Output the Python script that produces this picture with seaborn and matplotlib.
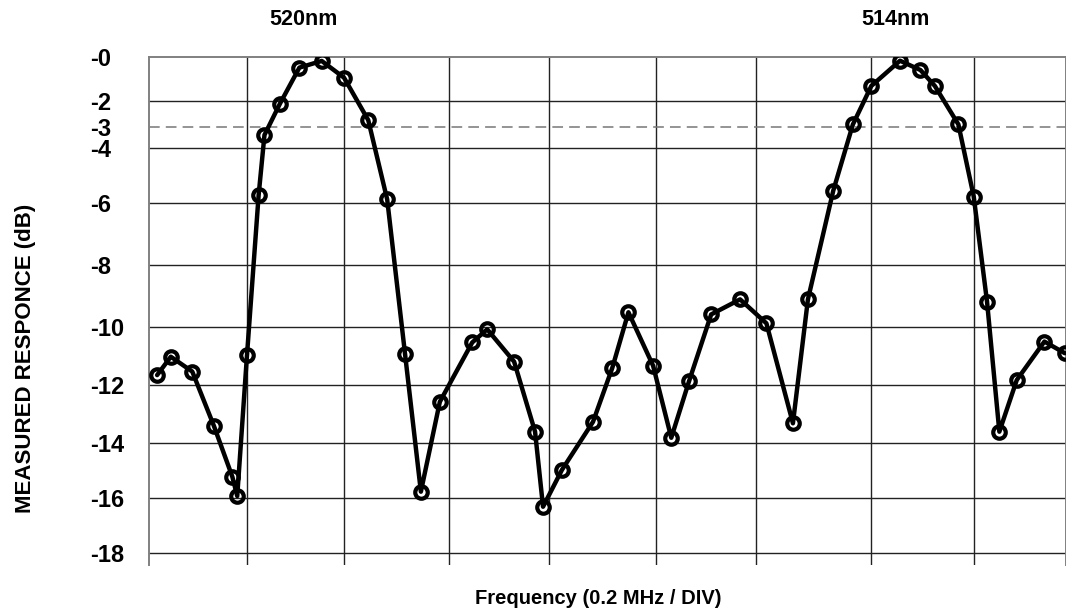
import numpy as np
import pandas as pd
import matplotlib
matplotlib.use("Agg")
import matplotlib.pyplot as plt
import seaborn as sns

# ---------------- data ----------------
freq_div = [0.08, 0.22, 0.44, 0.66, 0.85, 0.90, 1.00, 1.12, 1.18, 1.34,
            1.54, 1.77, 2.00, 2.23, 2.41, 2.58, 2.73, 2.91, 3.23, 3.38,
            3.65, 3.86, 3.94, 4.12, 4.41, 4.59, 4.74, 4.97, 5.15, 5.33,
            5.55, 5.84, 6.09, 6.32, 6.45, 6.67, 6.84, 7.00, 7.28, 7.48,
            7.62, 7.85, 8.00, 8.13, 8.25, 8.42, 8.69, 8.89]
response_db = [-11.66, -11.03, -11.54, -13.40, -15.23, -15.93, -10.97, -5.70, -3.39, -2.09,
               -0.49, -0.19, -0.94, -2.74, -5.86, -10.95, -15.77, -12.58, -10.54, -10.09,
               -11.20, -13.61, -16.32, -14.98, -13.27, -11.41, -9.53, -11.34, -13.82, -11.85,
               -9.60, -9.11, -9.89, -13.32, -9.11, -5.54, -2.91, -1.31, -0.18, -0.60,
               -1.31, -2.91, -5.76, -9.19, -13.61, -11.83, -10.51, -10.91]
y_ticks = [0, -2, -3, -4, -6, -8, -10, -12, -14, -16, -18]
y_tick_labels = ["-0", "-2", "-3", "-4", "-6", "-8", "-10", "-12", "-14", "-16", "-18"]
half_power_db = -3
x_divisions = list(range(0, 9))
peak_labels = ["520nm", "514nm"]
peak_label_x = [1.58, 7.24]
x_label = "Frequency (0.2 MHz / DIV)"
y_label = "MEASURED RESPONCE (dB)"

df = pd.DataFrame({"freq": freq_div, "db": response_db})

# ---------------- style ----------------
sns.set_theme(style="white")
plt.rcParams['font.family'] = ['Liberation Sans', 'DejaVu Sans']
plt.rcParams['font.weight'] = 'bold'

# uneven spacing of the original graph paper (layout only)
Y_KNOTS = np.array([-20, -18, -16, -14, -12, -10, -8, -6, -4, -3, -2, 0, 2], dtype=float)
Y_POS = -np.array([607.4, 552.7, 498, 443, 385, 326.7, 265.3, 203.3, 148, 126.7, 101.3, 56.7, 12.1])
X_KNOTS = np.arange(-1, 11, dtype=float)
X_POS = np.array([46.9, 149.3, 247, 344, 449.3, 549, 656.3, 756, 871.3, 973.7, 1076.1, 1178.5])

def fy(v):
    return np.interp(v, Y_KNOTS, Y_POS)

def iy(u):
    return np.interp(u, Y_POS, Y_KNOTS)

def fx(v):
    return np.interp(v, X_KNOTS, X_POS)

def ix(u):
    return np.interp(u, X_POS, X_KNOTS)

W, H = 1066, 613
fig = plt.figure(figsize=(W / 100, H / 100), dpi=100)
fig.patch.set_facecolor("white")
ax = fig.add_axes([149.3 / W, 1 - 565 / H, 916.2 / W, 508.3 / H])
ax.set_facecolor("white")

sns.lineplot(data=df, x="freq", y="db", ax=ax, sort=False, color="black",
             linewidth=3.2, marker="o", markersize=9, markeredgewidth=3.0,
             markerfacecolor="none", markeredgecolor="black", zorder=5)

ax.set_xscale("function", functions=(fx, ix))
ax.set_yscale("function", functions=(fy, iy))
ax.set_xlim(0, 8.896)
ax.set_ylim(-18.45, 0)

# grid
ax.set_xticks(x_divisions)
ax.set_xticklabels([])
ax.set_yticks(y_ticks)
ax.set_yticklabels(y_tick_labels)
ax.grid(False)
for xv in x_divisions[1:]:
    ax.axvline(xv, color="#222222", linewidth=1.0, zorder=1)
for yv in y_ticks:
    if yv == half_power_db:
        ax.axhline(yv, color="#777777", linewidth=1.1, linestyle=(0, (7, 4)), zorder=1)
    elif yv != 0:
        ax.axhline(yv, color="#222222", linewidth=1.0, zorder=1)

ax.tick_params(axis="x", length=0)
ax.tick_params(axis="y", length=0, pad=42.7, labelsize=17)
for lbl in ax.get_yticklabels():
    lbl.set_horizontalalignment("left")
    lbl.set_fontweight("bold")
    lbl.set_color("black")

for side in ["left", "top", "right"]:
    ax.spines[side].set_visible(True)
    ax.spines[side].set_color("#808080")
    ax.spines[side].set_linewidth(1.4)
ax.spines["bottom"].set_visible(False)

# axis labels
ax.set_xlabel(x_label, fontsize=14.5, fontweight="bold", color="black")
ax.xaxis.set_label_coords((598 - 149.3) / 916.2, (565 - 599) / 508.3)
ax.xaxis.label.set_verticalalignment("center")
ax.set_ylabel(y_label, fontsize=16, fontweight="bold", color="black")
ax.yaxis.set_label_coords((25.5 - 149.3) / 916.2, (565 - 358) / 508.3)
ax.yaxis.label.set_verticalalignment("center")
ax.yaxis.label.set_horizontalalignment("center")

# peak wavelength labels above the plot
for txt, xv in zip(peak_labels, peak_label_x):
    ax.text(xv, 1.0 + (56.7 - 19.5) / 508.3, txt,
            transform=ax.get_xaxis_transform(), ha="center", va="center",
            fontsize=15.5, fontweight="bold", color="black", clip_on=False)

fig.savefig("out.png", dpi=100, facecolor="white")
